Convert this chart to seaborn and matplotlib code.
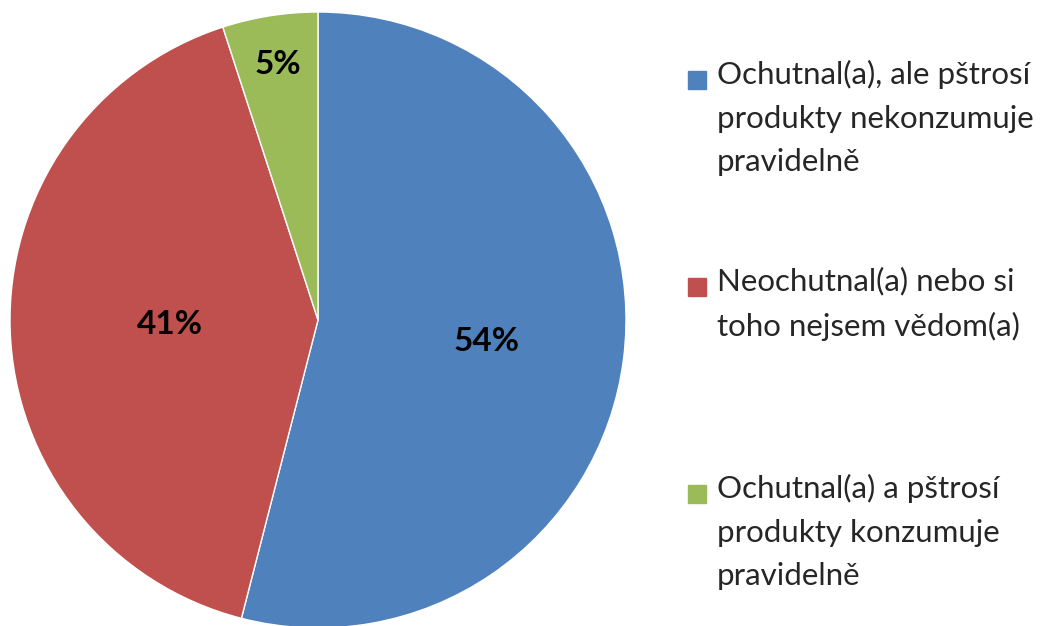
import numpy as np
import matplotlib
matplotlib.use("Agg")
import matplotlib.pyplot as plt
import matplotlib.patches as mpatches
import seaborn as sns

sns.set_theme(style="white")
plt.rcParams["font.family"] = ["Lato", "DejaVu Sans"]

labels = [
    "Ochutnal(a), ale pštrosí\nprodukty nekonzumuje\npravidelně",
    "Neochutnal(a) nebo si\ntoho nejsem vědom(a)",
    "Ochutnal(a) a pštrosí\nprodukty konzumuje\npravidelně",
]
values = [54, 41, 5]
colors = ["#4F81BD", "#C0504D", "#9BBB59"]
label_dist = [0.55, 0.48, 0.84]

W, H = 1048, 626
fig = plt.figure(figsize=(W / 100, H / 100), dpi=100)
cx, cy, r = 318, 320, 308
ax = fig.add_axes([(cx - r) / W, (H - cy - r) / H, 2 * r / W, 2 * r / H])

wedges, texts, autotexts = ax.pie(
    values, colors=colors, startangle=90, counterclock=False,
    autopct="%1.0f%%", pctdistance=0.55,
    wedgeprops=dict(edgecolor="white", linewidth=1),
    textprops=dict(fontsize=24, fontweight="bold", color="black"),
)
for w, t, d in zip(wedges, autotexts, label_dist):
    ang = np.deg2rad((w.theta1 + w.theta2) / 2)
    t.set_position((d * np.cos(ang), d * np.sin(ang)))
ax.set_xlim(-1, 1)
ax.set_ylim(-1, 1)
ax.set_aspect("equal")
ax.axis("off")

# legend, handles aligned with first line of each entry
y0, step = 80, 207
for i, (lab, c) in enumerate(zip(labels, colors)):
    y = y0 + i * step
    fig.patches.append(mpatches.Rectangle((688 / W, (H - y - 9) / H), 18 / W, 18 / H,
                                          transform=fig.transFigure, color=c))
    fig.text(717 / W, (H - y + 20) / H, lab, fontsize=22.5, va="top", ha="left",
             linespacing=1.68, transform=fig.transFigure)

fig.savefig("out.png", dpi=100)
